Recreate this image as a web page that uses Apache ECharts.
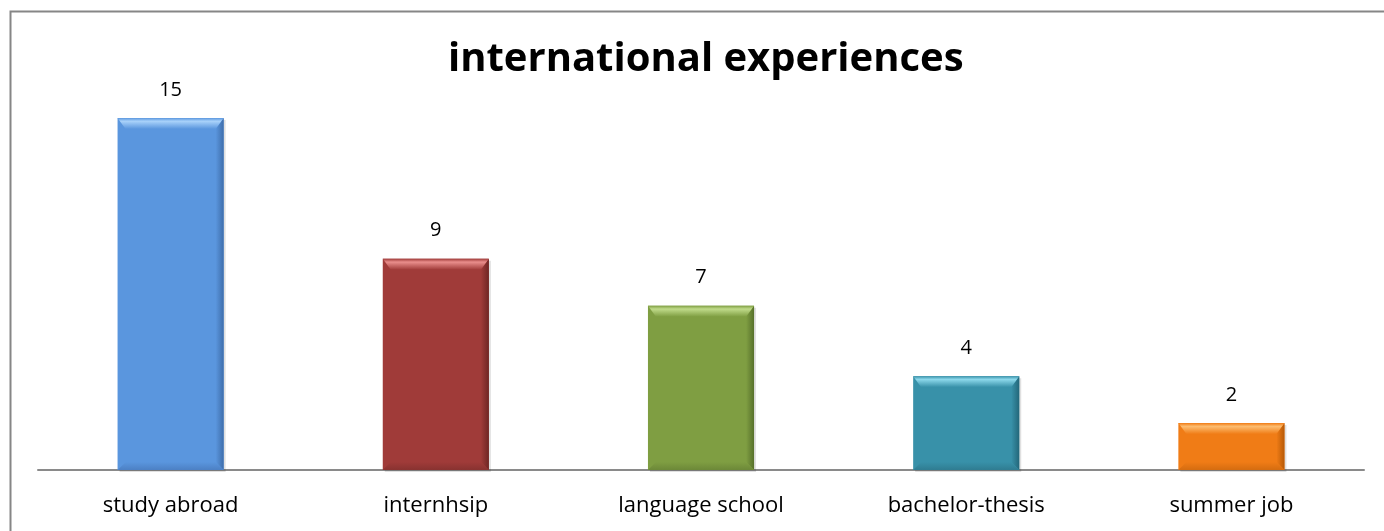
<!DOCTYPE html>
<html>
<head>
<meta charset="utf-8">
<script src="https://cdn.jsdelivr.net/npm/echarts@6/dist/echarts.min.js"></script>
<style>
html,body{margin:0;padding:0;background:#fff;}
#chart{width:1384px;height:531px;}
</style>
</head>
<body>
<div id="chart"></div>
<script>
const categories = ['study abroad', 'internhsip', 'language school', 'bachelor-thesis', 'summer job'];
const values = [15, 9, 7, 4, 2];
const titleText = 'international experiences';

const palette = [
  {main: '#5A96DE', light: '#A9D2FA', dark: '#3F6EAB', bottom: '#4C80C4'},
  {main: '#A03B39', light: '#EA8E8C', dark: '#6E2624', bottom: '#883230'},
  {main: '#7F9E42', light: '#C0DB8A', dark: '#57712B', bottom: '#6C8838'},
  {main: '#3891A9', light: '#8CD8EB', dark: '#23677A', bottom: '#2F7C91'},
  {main: '#F07C16', light: '#FDBD70', dark: '#B75A07', bottom: '#D46C10'}
];

const chart = echarts.init(document.getElementById('chart'));
const FONT = '"Open Sans", Lato, sans-serif';

function renderBar(params, api) {
  const xi = api.value(0), v = api.value(1);
  const top = api.coord([xi, v]);
  const bot = api.coord([xi, 0]);
  const w = api.size([1, 0])[0] * 0.4;
  const l = top[0] - w / 2, r = top[0] + w / 2, t = top[1], b = bot[1];
  const c = palette[params.dataIndex % palette.length];
  const bv = 11, sv = 8;
  return {
    type: 'group',
    children: [
      {type: 'rect', shape: {x: l + 2, y: t + 2, width: w, height: b - t}, style: {fill: 'rgba(0,0,0,0.12)'}},
      {type: 'rect', shape: {x: l, y: t, width: w, height: b - t}, style: {fill: c.main}},
      {type: 'polygon', shape: {points: [[r, t], [r, b], [r - sv, b - sv], [r - sv, t + bv]]},
        style: {fill: new echarts.graphic.LinearGradient(1, 0, 0, 0, [{offset: 0, color: c.dark}, {offset: 1, color: c.main}])}},
      {type: 'polygon', shape: {points: [[l, b], [r, b], [r - sv, b - sv], [l + sv, b - sv]]},
        style: {fill: new echarts.graphic.LinearGradient(0, 1, 0, 0, [{offset: 0, color: c.bottom}, {offset: 1, color: c.main}])}},
      {type: 'polygon', shape: {points: [[l, t], [r, t], [r - sv, t + bv], [l + sv, t + bv]]},
        style: {fill: new echarts.graphic.LinearGradient(0, 0, 0, 1, [{offset: 0, color: c.main}, {offset: 0.3, color: c.light}, {offset: 1, color: c.main}])}},
      {type: 'text', x: top[0], y: t - 18,
        style: {text: String(v), fill: '#000', font: '20px ' + FONT, align: 'center', verticalAlign: 'bottom'}}
    ]
  };
}

chart.setOption({
  animation: false,
  backgroundColor: '#fff',
  title: {
    text: titleText, left: 443, top: 35,
    textStyle: {fontSize: 40, fontWeight: 'bold', color: '#000', fontFamily: FONT}
  },
  graphic: [{
    type: 'rect', left: 8, top: 9, z: 100, silent: true,
    shape: {width: 1400, height: 540},
    style: {fill: 'none', stroke: '#868686', lineWidth: 2}
  }],
  grid: {left: 38, right: 20, top: 94.5, bottom: 61},
  xAxis: {
    type: 'category', data: categories,
    axisLine: {lineStyle: {color: '#8a8a8a', width: 2}},
    axisTick: {show: false},
    axisLabel: {color: '#000', fontSize: 22, fontFamily: FONT, margin: 25}
  },
  yAxis: {type: 'value', min: 0, max: 16, show: false, splitLine: {show: false}},
  series: [{
    type: 'custom',
    renderItem: renderBar,
    data: values.map((v, i) => [i, v]),
    encode: {x: 0, y: 1},
    z: 2
  }]
});
</script>
</body>
</html>
